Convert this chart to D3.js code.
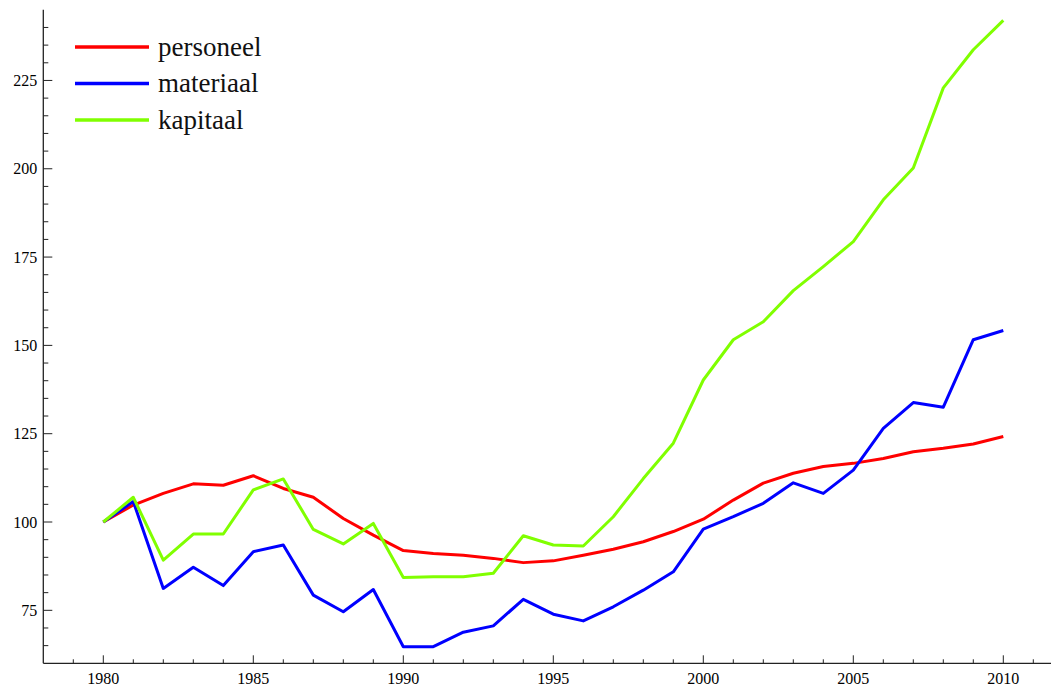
<!DOCTYPE html>
<html>
<head>
<meta charset="utf-8">
<script src="https://cdn.jsdelivr.net/npm/d3@7"></script>
<style>
  body { margin: 0; background: #fff; }
  svg { display: block; font-family: "Liberation Serif", "Times New Roman", serif; }
</style>
</head>
<body>
<svg width="1051" height="688"></svg>
<script>
const years = d3.range(1980, 2011);
const personeel = [100, 104.8, 108.1, 110.8, 110.4, 113.1, 109.5, 107, 101, 96.3,
  91.9, 91.1, 90.6, 89.7, 88.5, 89, 90.6, 92.3, 94.4, 97.3,
  100.8, 106.2, 111, 113.8, 115.7, 116.6, 118, 119.9, 120.9, 122.1, 124.2];
const materiaal = [100, 105.8, 81.2, 87.2, 82, 91.6, 93.5, 79.3, 74.6, 80.9,
  64.7, 64.7, 68.8, 70.6, 78.1, 73.9, 72, 76, 80.7, 85.9,
  98, 101.5, 105.3, 111.1, 108.1, 114.7, 126.5, 133.8, 132.5, 151.6, 154.2];
const kapitaal = [100, 107, 89.2, 96.6, 96.6, 109.1, 112.2, 97.9, 93.8, 99.6,
  84.3, 84.5, 84.5, 85.5, 96.1, 93.5, 93.2, 101.5, 112.3, 122.3,
  140.2, 151.6, 156.7, 165.5, 172.3, 179.4, 191.2, 200.2, 222.9, 233.7, 242];
const seriesNames = ["personeel", "materiaal", "kapitaal"];
const seriesColors = ["#ff0000", "#0000ff", "#80ff00"];
const yTickValues = [75, 100, 125, 150, 175, 200, 225];
const xTickValues = [1980, 1985, 1990, 1995, 2000, 2005, 2010];

const svg = d3.select("svg");

const x = d3.scaleLinear().domain([1978, 2011.6]).range([43.3, 1051.3]);
const y = d3.scaleLinear().domain([60, 245]).range([663.3, 9.8]);

const axisColor = "#222";

// x axis: ticks pointing up, inside the plot
const gx = svg.append("g").attr("transform", `translate(0,${y.range()[0]})`);
gx.append("line")
  .attr("x1", x.range()[0]).attr("x2", 1051)
  .attr("stroke", axisColor).attr("stroke-width", 1.3);
gx.selectAll(".minor")
  .data(d3.range(1979, 2012).filter(v => v % 5 !== 0))
  .enter().append("line")
  .attr("x1", d => x(d)).attr("x2", d => x(d))
  .attr("y1", 0).attr("y2", -4)
  .attr("stroke", axisColor);
gx.selectAll(".major")
  .data(xTickValues)
  .enter().append("line")
  .attr("x1", d => x(d)).attr("x2", d => x(d))
  .attr("y1", 0).attr("y2", -8)
  .attr("stroke", axisColor);
gx.selectAll("text")
  .data(xTickValues)
  .enter().append("text")
  .attr("x", d => x(d))
  .attr("y", 21)
  .attr("text-anchor", "middle")
  .attr("font-size", 16)
  .text(d => d);

// y axis: ticks pointing right
const gy = svg.append("g").attr("transform", `translate(${x.range()[0]},0)`);
gy.append("line")
  .attr("y1", y.range()[0]).attr("y2", y.range()[1])
  .attr("stroke", axisColor).attr("stroke-width", 1.3);
gy.selectAll(".minor")
  .data(d3.range(65, 245, 5).filter(v => v % 25 !== 0))
  .enter().append("line")
  .attr("y1", d => y(d)).attr("y2", d => y(d))
  .attr("x1", 0).attr("x2", 5)
  .attr("stroke", axisColor);
gy.selectAll(".major")
  .data(yTickValues)
  .enter().append("line")
  .attr("y1", d => y(d)).attr("y2", d => y(d))
  .attr("x1", 0).attr("x2", 9)
  .attr("stroke", axisColor);
gy.selectAll("text")
  .data(yTickValues)
  .enter().append("text")
  .attr("x", -6)
  .attr("y", d => y(d))
  .attr("dy", "0.35em")
  .attr("text-anchor", "end")
  .attr("font-size", 16)
  .text(d => d);

// lines
const line = d3.line().x((d, i) => x(years[i])).y(d => y(d));
[personeel, materiaal, kapitaal].forEach((vals, i) => {
  svg.append("path")
    .datum(vals)
    .attr("fill", "none")
    .attr("stroke", seriesColors[i])
    .attr("stroke-width", 3)
    .attr("stroke-linejoin", "round")
    .attr("d", line);
});

// legend
const legend = svg.append("g");
seriesNames.forEach((name, i) => {
  const ly = 47 + i * 36.5;
  legend.append("line")
    .attr("x1", 75).attr("x2", 149)
    .attr("y1", ly).attr("y2", ly)
    .attr("stroke", seriesColors[i])
    .attr("stroke-width", 3.5);
  legend.append("text")
    .attr("x", 158).attr("y", ly)
    .attr("dy", "0.32em")
    .attr("font-size", 27)
    .attr("fill", "#111")
    .text(name);
});
</script>
</body>
</html>
